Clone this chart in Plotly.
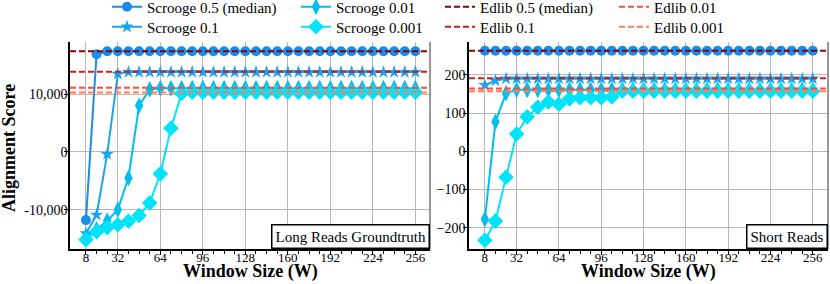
import plotly.graph_objects as go

W = [8, 16, 24, 32, 40, 48, 56, 64, 72, 80, 88, 96, 104, 112, 120, 128,
     136, 144, 152, 160, 168, 176, 184, 192, 200, 208, 216, 224, 232, 240, 248, 256]

# Long reads groundtruth
long_s05 = [-11800, 16900, 17400, 17400, 17400, 17400, 17400, 17400, 17400, 17400, 17400, 17400,
            17400, 17400, 17400, 17400, 17400, 17400, 17400, 17400, 17400, 17400, 17400, 17400,
            17400, 17400, 17400, 17400, 17400, 17400, 17400, 17400]
long_s01 = [-14100, -10900, -400, 13500, 13800, 13800, 13800, 13800, 13800, 13800, 13800, 13800,
            13800, 13800, 13800, 13800, 13800, 13800, 13800, 13800, 13800, 13800, 13800, 13800,
            13800, 13800, 13800, 13800, 13800, 13800, 13800, 13800]
long_s001 = [-14700, -13400, -11900, -10000, -4500, 8000, 10800, 11000, 11000, 11000, 11000, 11000,
             11000, 11000, 11000, 11000, 11000, 11000, 11000, 11000, 11000, 11000, 11000, 11000,
             11000, 11000, 11000, 11000, 11000, 11000, 11000, 11000]
long_s0001 = [-15200, -13800, -13100, -12600, -12000, -11000, -8850, -3800, 4100, 10100, 10300, 10300,
              10300, 10300, 10300, 10300, 10300, 10300, 10300, 10300, 10300, 10300, 10300, 10300,
              10300, 10300, 10300, 10300, 10300, 10300, 10300, 10300]
long_edlib = [17400, 13850, 11080, 10280]

# Short reads
short_s05 = [263, 263, 263, 263, 263, 263, 263, 263, 263, 263, 263, 263, 263, 263, 263, 263,
             263, 263, 263, 263, 263, 263, 263, 263, 263, 263, 263, 263, 263, 263, 263, 263]
short_s01 = [173, 185, 190, 190, 190, 190, 190, 190, 190, 190, 190, 190, 190, 190, 190, 190,
             190, 190, 190, 190, 190, 190, 190, 190, 190, 190, 190, 190, 190, 190, 190, 190]
short_s001 = [-178, 77, 152, 161, 161, 161, 161, 161, 161, 161, 161, 161, 161, 161, 161, 161,
              161, 161, 161, 161, 161, 161, 161, 161, 161, 161, 161, 161, 161, 161, 161, 161]
short_s0001 = [-233, -183, -68, 45, 90, 115, 129, 123, 137, 140, 140, 140, 142, 157, 157, 157,
               157, 157, 157, 157, 157, 157, 157, 157, 157, 157, 157, 157, 157, 157, 157, 157]
short_edlib = [263, 191, 164, 157]

scrooge_names = ["Scrooge 0.5 (median)", "Scrooge 0.1", "Scrooge 0.01", "Scrooge 0.001"]
edlib_names = ["Edlib 0.5 (median)", "Edlib 0.1", "Edlib 0.01", "Edlib 0.001"]
scrooge_colors = ["#1A8CEB", "#1AA3F0", "#00BFEF", "#00E3FA"]
scrooge_symbols = ["circle", "star", "diamond-tall", "diamond"]
scrooge_sizes = [10, 10, 12, 12]
edlib_colors = ["#8B0000", "#C81E1E", "#FF4A3D", "#FF7F5A"]

FONT = "Liberation Serif, DejaVu Serif, Times New Roman, serif"
fig = go.Figure()

# one legend per entry: (column, row)
col_px = [113, 302, 446, 620]
row_px = [7, 27]
scrooge_leg = ["legend", "legend2", "legend3", "legend4"]
edlib_leg = ["legend5", "legend6", "legend7", "legend8"]
scrooge_pos = [(0, 0), (0, 1), (1, 0), (1, 1)]
edlib_pos = [(2, 0), (2, 1), (3, 0), (3, 1)]

panels = [
    ("x", "y", [long_s05, long_s01, long_s001, long_s0001], long_edlib, True),
    ("x2", "y2", [short_s05, short_s01, short_s001, short_s0001], short_edlib, False),
]

for xa, ya, series, edl, show in panels:
    for i, ys in enumerate(series):
        fig.add_trace(go.Scatter(
            x=W, y=ys, xaxis=xa, yaxis=ya, mode="lines+markers",
            name=scrooge_names[i], showlegend=show, legend=scrooge_leg[i],
            line=dict(color=scrooge_colors[i], width=2),
            marker=dict(symbol=scrooge_symbols[i], size=scrooge_sizes[i], color=scrooge_colors[i],
                        line=dict(width=0)),
        ))
    for i, v in enumerate(edl):
        fig.add_shape(type="line", xref=f"{xa} domain", yref=ya, x0=0, x1=1, y0=v, y1=v,
                      line=dict(color=edlib_colors[i], width=2, dash="6px,3px"), layer="above")

for i, nm in enumerate(edlib_names):
    fig.add_trace(go.Scatter(
        x=[None], y=[None], mode="lines", name=nm, legend=edlib_leg[i],
        line=dict(color=edlib_colors[i], width=2, dash="6px,3px"),
    ))

axis_common = dict(showline=True, linecolor="black", linewidth=1.5, ticks="outside",
                   ticklen=4, tickcolor="black", showgrid=True, gridcolor="#b8b8b8",
                   gridwidth=1, zeroline=False, tickfont=dict(family=FONT, size=14, color="black"))

xt = [8, 32, 64, 96, 128, 160, 192, 224, 256]
minor = dict(tickvals=W, ticks="outside", ticklen=3, tickcolor="black", showgrid=False)

fig.update_layout(
    width=830, height=284, margin=dict(l=0, r=0, t=0, b=0, autoexpand=False),
    paper_bgcolor="white", plot_bgcolor="white",
    font=dict(family=FONT, color="black"),
    xaxis=dict(domain=[70/830, 430/830], range=[-4, 267], tickmode="array", tickvals=xt,
               minor=minor, anchor="y", ticklabelstandoff=-8, **axis_common),
    yaxis=dict(domain=[1-249/284, 1-42/284], range=[-16800, 19000], tickmode="array",
               tickvals=[-10000, 0, 10000], ticktext=["-10,000", "0", "10,000"], anchor="x",
               ticklabelstandoff=-6, **axis_common),
    xaxis2=dict(domain=[469/830, 828/830], range=[-4, 267.5], tickmode="array", tickvals=xt,
                minor=minor, anchor="y2", ticklabelstandoff=-8, **axis_common),
    yaxis2=dict(domain=[1-249/284, 1-42/284], range=[-256, 286], tickmode="array",
                tickvals=[-200, -100, 0, 100, 200], anchor="x2", ticklabelstandoff=-5,
                **axis_common),
)
fig.update_xaxes(tickfont=dict(family=FONT, size=13, color="black"))

for legs, poss in [(scrooge_leg, scrooge_pos), (edlib_leg, edlib_pos)]:
    for lg, (c, r) in zip(legs, poss):
        fig.update_layout({lg: dict(x=(col_px[c]-6)/830, xanchor="left",
                                    y=1-row_px[r]/284, yanchor="middle",
                                    orientation="v", bgcolor="rgba(0,0,0,0)", borderwidth=0,
                                    itemwidth=30,
                                    font=dict(family=FONT, size=15, color="black"))})

# right edges of the panels
for xa, ya in [("x", "y"), ("x2", "y2")]:
    fig.add_shape(type="line", xref=f"{xa} domain", yref=f"{ya} domain",
                  x0=1, x1=1, y0=0, y1=1, line=dict(color="#555555", width=1.2), layer="above")

annos = [
    dict(text="Long Reads Groundtruth", xref="x domain", yref="y domain", x=1, y=0),
    dict(text="Short Reads", xref="x2 domain", yref="y2 domain", x=1, y=0),
]
for a in annos:
    fig.add_annotation(**a, xanchor="right", yanchor="bottom", showarrow=False,
                       bgcolor="white", bordercolor="black", borderwidth=1.5, borderpad=3,
                       font=dict(family=FONT, size=15, color="black"))

fig.add_annotation(text="<b>Alignment Score</b>", xref="paper", yref="paper", x=9/830,
                   y=1-148/284, xanchor="center", yanchor="middle", textangle=-90,
                   showarrow=False, font=dict(family=FONT, size=18, color="black"))
for cx in [250, 648.5]:
    fig.add_annotation(text="<b>Window Size (W)</b>", xref="paper", yref="paper", x=cx/830,
                       y=1-271/284, xanchor="center", yanchor="middle", showarrow=False,
                       font=dict(family=FONT, size=18, color="black"))

fig.write_html("out.html", config={"displayModeBar": False},
               post_script="document.body.style.margin='0';document.body.style.overflow='hidden';")
